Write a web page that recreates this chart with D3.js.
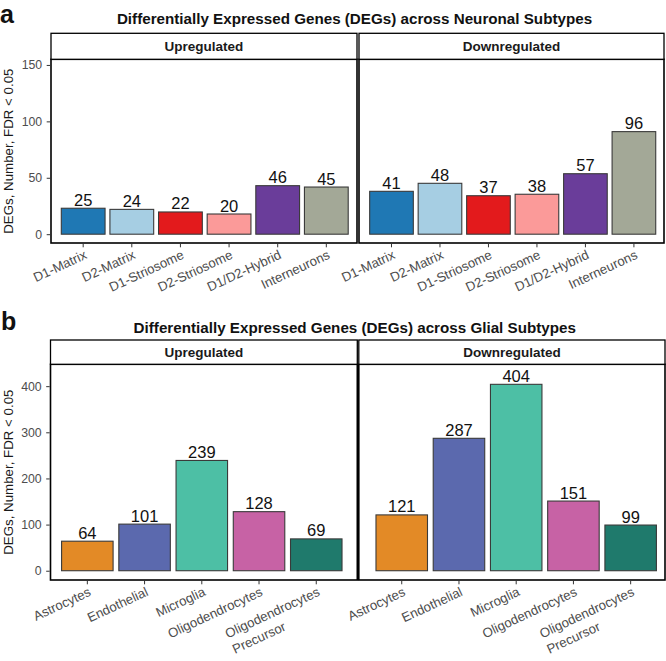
<!DOCTYPE html>
<html><head><meta charset="utf-8">
<script src="https://cdn.jsdelivr.net/npm/d3@7"></script>
<style>body{margin:0;background:#fff} text{font-family:"Liberation Sans", Arial, Helvetica, sans-serif}</style>
</head><body><svg id="c" width="666" height="661"></svg>
<script>
const facetNames = ["Upregulated", "Downregulated"];
const neuronTitle = "Differentially Expressed Genes (DEGs) across Neuronal Subtypes";
const glialTitle = "Differentially Expressed Genes (DEGs) across Glial Subtypes";
const yAxisTitle = "DEGs, Number, FDR < 0.05";

const neuronCategories = ["D1-Matrix", "D2-Matrix", "D1-Striosome", "D2-Striosome", "D1/D2-Hybrid", "Interneurons"];
const neuronUpBars = [23, 22, 19.7, 17.9, 43, 41.8];
const neuronUpLabels = [25, 24, 22, 20, 46, 45];
const neuronDownBars = [38, 45.1, 34.1, 35.4, 53.6, 90.9];
const neuronDownLabels = [41, 48, 37, 38, 57, 96];
const neuronColors = ["#1F78B4", "#A6CEE3", "#E31A1C", "#FB9A99", "#6A3D9A", "#A3A897"];
const neuronYTicks = [0, 50, 100, 150];

const glialCategories = ["Astrocytes", "Endothelial", "Microglia", "Oligodendrocytes", "Oligodendrocytes\nPrecursor"];
const glialUp = [64, 101, 239, 128, 69];
const glialDown = [121, 287, 404, 151, 99];
const glialColors = ["#E38A26", "#5B69AE", "#4DBFA5", "#C762A5", "#1F7A6C"];
const glialYTicks = [0, 100, 200, 300, 400];

const figs = [
  {tag: "a", tagX: 0, tagY: 23, title: neuronTitle, titleY: 24,
   stripTop: 33.3, stripBottom: 59.3, panelBottom: 243,
   frames: [[51, 357], [359, 664]], bands: [[54, 355.5], [362.4, 663]],
   yDomain: [-7.8, 155], categories: neuronCategories, colors: neuronColors, ticks: neuronYTicks,
   series: [{bars: neuronUpBars, labels: neuronUpLabels}, {bars: neuronDownBars, labels: neuronDownLabels}]},
  {tag: "b", tagX: 1, tagY: 330, title: glialTitle, titleY: 333,
   stripTop: 340, stripBottom: 364.3, panelBottom: 580,
   frames: [[50.5, 357.3], [358.8, 665]], bands: [[53, 350.6], [367.4, 665]],
   yDomain: [-20.1, 447.4], categories: glialCategories, colors: glialColors, ticks: glialYTicks,
   series: [{bars: glialUp, labels: glialUp}, {bars: glialDown, labels: glialDown}]}
];

const svg = d3.select("#c");
svg.append("rect").attr("width", 666).attr("height", 661).attr("fill", "#fff");

figs.forEach(f => {
  const y = d3.scaleLinear().domain(f.yDomain).range([f.panelBottom, f.stripBottom]);
  const cx = (f.frames[0][0] + f.frames[1][1]) / 2 - 3;
  svg.append("text").attr("x", f.tagX).attr("y", f.tagY).attr("font-size", 25)
    .attr("font-weight", "bold").attr("fill", "#111").text(f.tag);
  svg.append("text").attr("x", cx).attr("y", f.titleY).attr("text-anchor", "middle")
    .attr("font-size", 15.2).attr("font-weight", "bold").attr("fill", "#111").text(f.title);

  f.series.forEach((s, i) => {
    const [fx0, fx1] = f.frames[i];
    const x = d3.scaleBand().domain(f.categories).range(f.bands[i]).paddingInner(0.1).paddingOuter(0.15);
    const g = svg.append("g");
    const data = f.categories.map((c, k) => ({c, v: s.bars[k], lab: s.labels[k], col: f.colors[k]}));
    g.selectAll("rect.bar").data(data).join("rect").attr("class", "bar")
      .attr("x", d => x(d.c)).attr("width", x.bandwidth())
      .attr("y", d => y(d.v)).attr("height", d => y(0) - y(d.v))
      .attr("fill", d => d.col).attr("stroke", "#3a3a3a").attr("stroke-width", 1.1);
    g.selectAll("text.val").data(data).join("text").attr("class", "val")
      .attr("x", d => x(d.c) + x.bandwidth() / 2).attr("y", d => y(d.v) - 2.5)
      .attr("text-anchor", "middle").attr("font-size", 16.5).attr("fill", "#111").text(d => d.lab);
    // panel frame
    g.append("rect").attr("x", fx0).attr("y", f.stripBottom).attr("width", fx1 - fx0)
      .attr("height", f.panelBottom - f.stripBottom).attr("fill", "none").attr("stroke", "#000").attr("stroke-width", 1.6);
    // strip
    g.append("rect").attr("x", fx0).attr("y", f.stripTop).attr("width", fx1 - fx0)
      .attr("height", f.stripBottom - f.stripTop).attr("fill", "#fff").attr("stroke", "#000").attr("stroke-width", 1.3);
    g.append("text").attr("x", (fx0 + fx1) / 2).attr("y", (f.stripTop + f.stripBottom) / 2 + 4.8)
      .attr("text-anchor", "middle").attr("font-size", 13.5).attr("font-weight", "bold").attr("fill", "#1a1a1a")
      .text(facetNames[i]);
    // x axis
    const ax = g.append("g").attr("transform", `translate(0,${f.panelBottom + 0.8})`)
      .call(d3.axisBottom(x).tickSize(3.5).tickFormat(""));
    ax.select(".domain").remove();
    ax.selectAll(".tick line").attr("stroke", "#333").attr("stroke-width", 1);
    f.categories.forEach(c => {
      const lines = c.split("\n");
      const t = g.append("text")
        .attr("transform", `translate(${x(c) + x.bandwidth() / 2 + 4.5},${f.panelBottom + 15}) rotate(-25)`)
        .attr("font-size", 13.2).attr("fill", "#4d4d4d");
      const spans = lines.map((ln, li) => t.append("tspan").attr("x", 0).attr("dy", li === 0 ? 0 : "1.3em").text(ln));
      const maxW = d3.max(spans, sp => sp.node().getComputedTextLength());
      spans.forEach(sp => sp.attr("x", -maxW));
    });
  });

  // y axis on left panel
  const ay = svg.append("g").attr("transform", `translate(${f.frames[0][0] - 0.8},0)`)
    .call(d3.axisLeft(y).tickValues(f.ticks).tickSize(3.5).tickPadding(4.5));
  ay.select(".domain").remove();
  ay.selectAll(".tick line").attr("stroke", "#333");
  ay.selectAll(".tick text").attr("font-size", 12.3).attr("fill", "#4d4d4d")
    .attr("font-family", "Liberation Sans, Arial, sans-serif");
  svg.append("text").attr("transform", `translate(13,${(f.stripBottom + f.panelBottom) / 2}) rotate(-90)`)
    .attr("text-anchor", "middle").attr("font-size", 13.3).attr("fill", "#1a1a1a").text(yAxisTitle);
});
</script></body></html>
